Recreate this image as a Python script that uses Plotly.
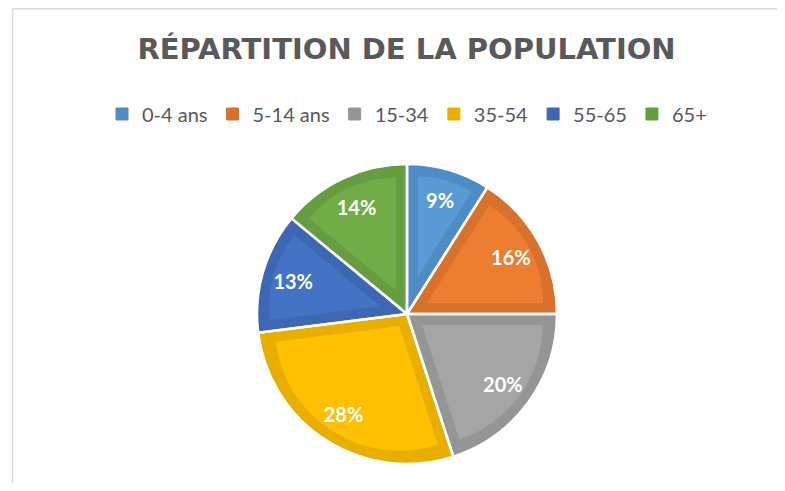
import math
import plotly.graph_objects as go

# ---- data ----
labels = ["0-4 ans", "5-14 ans", "15-34", "35-54", "55-65", "65+"]
values = [9, 16, 20, 28, 13, 14]
fill_colors = ["#5B9BD5", "#ED7D31", "#A5A5A5", "#FFC000", "#4472C4", "#70AD47"]
edge_colors = ["#4F8BC4", "#D8712C", "#959595", "#E8AF00", "#3D67B3", "#659D40"]
title_text = "RÉPARTITION DE LA POPULATION"

# ---- geometry ----
# the page body has an 8px margin, so the figure is placed at (8, 8) and sized
# so that it does not overflow the 785x491 window
OFF = 8
W, H = 785 - 2 * OFF, 491 - 2 * OFF
CX, CY = 407, 314     # pie centre (window pixels)
R = 150               # pie radius
BAND = 11             # width of the darker inner border


def px(x):
    return (x - OFF) / W


def py(y):
    return 1 - (y - OFF) / H


def dom(cx, cy, half):
    return dict(x=[px(cx - half), px(cx + half)],
                y=[py(cy + half), py(cy - half)])


common = dict(labels=labels, values=values, sort=False,
              direction="clockwise", rotation=0)

fig = go.Figure()

# darker full pie (gives the border band + legend)
fig.add_trace(go.Pie(
    **common, domain=dom(CX, CY, R),
    marker=dict(colors=edge_colors, line=dict(color=edge_colors, width=1)),
    textinfo="none", hoverinfo="label+percent", showlegend=True,
))

# lighter inset wedge for each slice
total = sum(values)
n = len(values)
for i, v in enumerate(values):
    half_angle = math.pi * v / total
    shift = BAND / math.sin(half_angle)
    r2 = R - BAND - shift
    pull_frac = shift / r2
    cols = ["rgba(0,0,0,0)"] * n
    cols[i] = fill_colors[i]
    pulls = [0.0] * n
    pulls[i] = pull_frac
    fig.add_trace(go.Pie(
        **common, domain=dom(CX, CY, r2 * (1 + pull_frac)), pull=pulls,
        marker=dict(colors=cols, line=dict(width=0)),
        textinfo="none", hoverinfo="skip", showlegend=False,
    ))

# white separators
fig.add_trace(go.Pie(
    **common, domain=dom(CX, CY, R),
    marker=dict(colors=["rgba(0,0,0,0)"] * n, line=dict(color="white", width=2.5)),
    textinfo="none", hoverinfo="skip", showlegend=False,
))

# percentage labels (placed in an outer ring)
fig.add_trace(go.Pie(
    **common, domain=dom(CX, CY, R), hole=0.58,
    marker=dict(colors=["rgba(0,0,0,0)"] * n, line=dict(width=0)),
    texttemplate="%{percent:.0%}", textposition="inside",
    insidetextorientation="horizontal",
    textfont=dict(family="Lato", size=20, color="white", weight="bold"),
    hoverinfo="skip", showlegend=False,
))

frame = dict(color="#D9D9D9", width=1.5)
fig.update_layout(
    width=W, height=H,
    margin=dict(l=0, r=0, t=0, b=0),
    paper_bgcolor="white", plot_bgcolor="white",
    title=dict(text=title_text, x=px(406.5), xanchor="center",
               y=py(49), yanchor="middle",
               font=dict(family="DejaVu Sans", size=29, color="#595959", weight="bold")),
    legend=dict(orientation="h", x=px(407), xanchor="center",
                y=py(114), yanchor="middle",
                font=dict(family="Lato", size=20, color="#595959"),
                itemwidth=30, traceorder="normal", bgcolor="rgba(0,0,0,0)"),
    shapes=[
        dict(type="line", xref="paper", yref="paper",
             x0=px(12.5), x1=1.0, y0=1 - 0.75 / H, y1=1 - 0.75 / H,
             line=frame, layer="below"),
        dict(type="line", xref="paper", yref="paper",
             x0=px(12.5), x1=px(12.5), y0=0.0, y1=1 - 0.75 / H,
             line=frame, layer="below"),
    ],
)

fig.write_html("out.html")
